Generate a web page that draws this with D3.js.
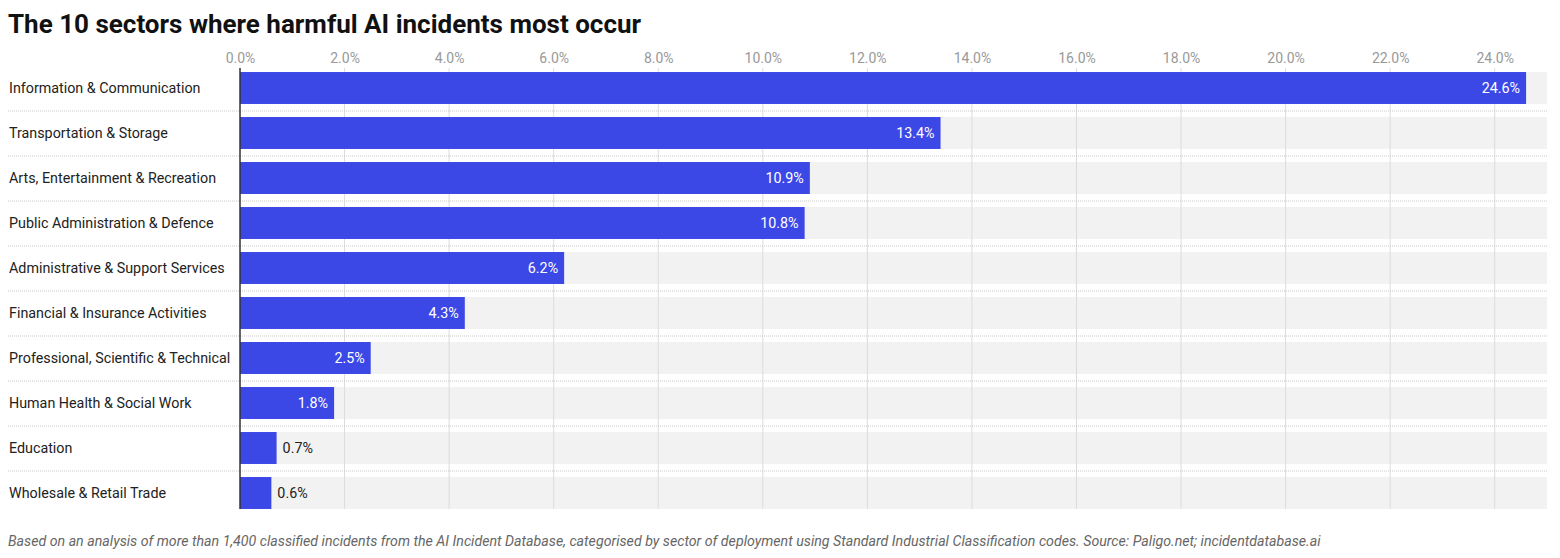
<!DOCTYPE html>
<html>
<head>
<meta charset="utf-8">
<script src="https://cdn.jsdelivr.net/npm/d3@7"></script>
<style>
  body { margin: 0; background: #fff; font-family: Roboto, sans-serif; }
</style>
</head>
<body>
<div class="container"></div>
<script>
var sectors = [
  'Information & Communication',
  'Transportation & Storage',
  'Arts, Entertainment & Recreation',
  'Public Administration & Defence',
  'Administrative & Support Services',
  'Financial & Insurance Activities',
  'Professional, Scientific & Technical',
  'Human Health & Social Work',
  'Education',
  'Wholesale & Retail Trade'
];
var shares = [24.6, 13.4, 10.9, 10.8, 6.2, 4.3, 2.5, 1.8, 0.7, 0.6];
var ticks = [0, 2, 4, 6, 8, 10, 12, 14, 16, 18, 20, 22, 24];

var title = 'The 10 sectors where harmful AI incidents most occur';
var note = 'Based on an analysis of more than 1,400 classified incidents from the AI Incident Database, categorised by sector of deployment using Standard Industrial Classification codes. Source: Paligo.net; incidentdatabase.ai';

var w = 1560, h = 558;
var left = 240, right = 1547;
var topY = 65.5, rowStep = 45;

var svg = d3.select('.container')
  .append('svg')
  .attr('width', w)
  .attr('height', h);

var xScale = d3.scaleLinear()
  .domain([0, 25])
  .range([left, right]);

var yScale = d3.scaleBand()
  .domain(sectors)
  .range([topY, topY + rowStep * sectors.length])
  .paddingInner(0.29)
  .paddingOuter(0.145);

var plotTop = yScale(sectors[0]) - 4;
var plotBottom = yScale(sectors[sectors.length - 1]) + yScale.bandwidth();

svg.append('text')
  .attr('x', 8).attr('y', 33)
  .attr('font-size', '26px')
  .attr('font-weight', 'bold')
  .attr('fill', '#111')
  .text(title);

/* grey backgrounds */
svg.selectAll('.bg')
  .data(sectors)
  .enter().append('rect')
  .attr('x', left)
  .attr('y', function(d) { return yScale(d); })
  .attr('width', right - left)
  .attr('height', yScale.bandwidth())
  .attr('fill', '#f2f2f2');

/* vertical grid */
svg.selectAll('.grid')
  .data(ticks.slice(1))
  .enter().append('line')
  .attr('x1', function(d) { return xScale(d); })
  .attr('x2', function(d) { return xScale(d); })
  .attr('y1', plotTop)
  .attr('y2', plotBottom)
  .attr('stroke', '#dcdcdc')
  .attr('stroke-width', 1);

/* dotted separators */
svg.selectAll('.sep')
  .data(sectors.slice(1))
  .enter().append('line')
  .attr('x1', 8).attr('x2', right)
  .attr('y1', function(d) { return yScale(d) - (yScale.step() - yScale.bandwidth()) / 2 + 0.5; })
  .attr('y2', function(d) { return yScale(d) - (yScale.step() - yScale.bandwidth()) / 2 + 0.5; })
  .attr('stroke', '#c8c8c8')
  .attr('stroke-dasharray', '1,1');

/* top axis */
var xAxis = d3.axisTop(xScale)
  .tickValues(ticks)
  .tickSize(0)
  .tickFormat(function(d) { return d.toFixed(1) + '%'; });

var ax = svg.append('g')
  .attr('transform', 'translate(0,' + 54 + ')')
  .call(xAxis);
ax.select('.domain').remove();
ax.selectAll('text')
  .attr('font-family', 'Roboto, sans-serif')
  .attr('font-size', '14px')
  .attr('fill', '#999')
  .attr('dy', '0.32em')
  .attr('y', 5);

/* bars */
var group = svg.selectAll('.row')
  .data(sectors)
  .enter().append('g');

group.append('rect')
  .attr('x', xScale(0))
  .attr('y', function(d) { return yScale(d); })
  .attr('width', function(d, i) { return xScale(shares[i]) - xScale(0); })
  .attr('height', yScale.bandwidth())
  .attr('fill', '#3b48e6');

group.append('text')
  .attr('x', 9)
  .attr('y', function(d) { return yScale(d) + yScale.bandwidth() / 2; })
  .attr('dy', '0.35em')
  .attr('font-size', '14.3px')
  .attr('fill', '#222')
  .text(function(d) { return d; });

group.append('text')
  .attr('x', function(d, i) {
    return shares[i] >= 1.5 ? xScale(shares[i]) - 6 : xScale(shares[i]) + 6;
  })
  .attr('y', function(d) { return yScale(d) + yScale.bandwidth() / 2; })
  .attr('dy', '0.35em')
  .attr('text-anchor', function(d, i) { return shares[i] >= 1.5 ? 'end' : 'start'; })
  .attr('font-size', '14.3px')
  .attr('fill', function(d, i) { return shares[i] >= 1.5 ? '#fff' : '#222'; })
  .text(function(d, i) { return shares[i].toFixed(1) + '%'; });

/* baseline */
svg.append('line')
  .attr('x1', left).attr('x2', left)
  .attr('y1', plotTop)
  .attr('y2', plotBottom)
  .attr('stroke', '#333')
  .attr('stroke-width', 1.5);

svg.append('text')
  .attr('x', 8).attr('y', 546)
  .attr('font-size', '14.2px')
  .attr('font-style', 'italic')
  .attr('fill', '#666')
  .text(note);
</script>
</body>
</html>
